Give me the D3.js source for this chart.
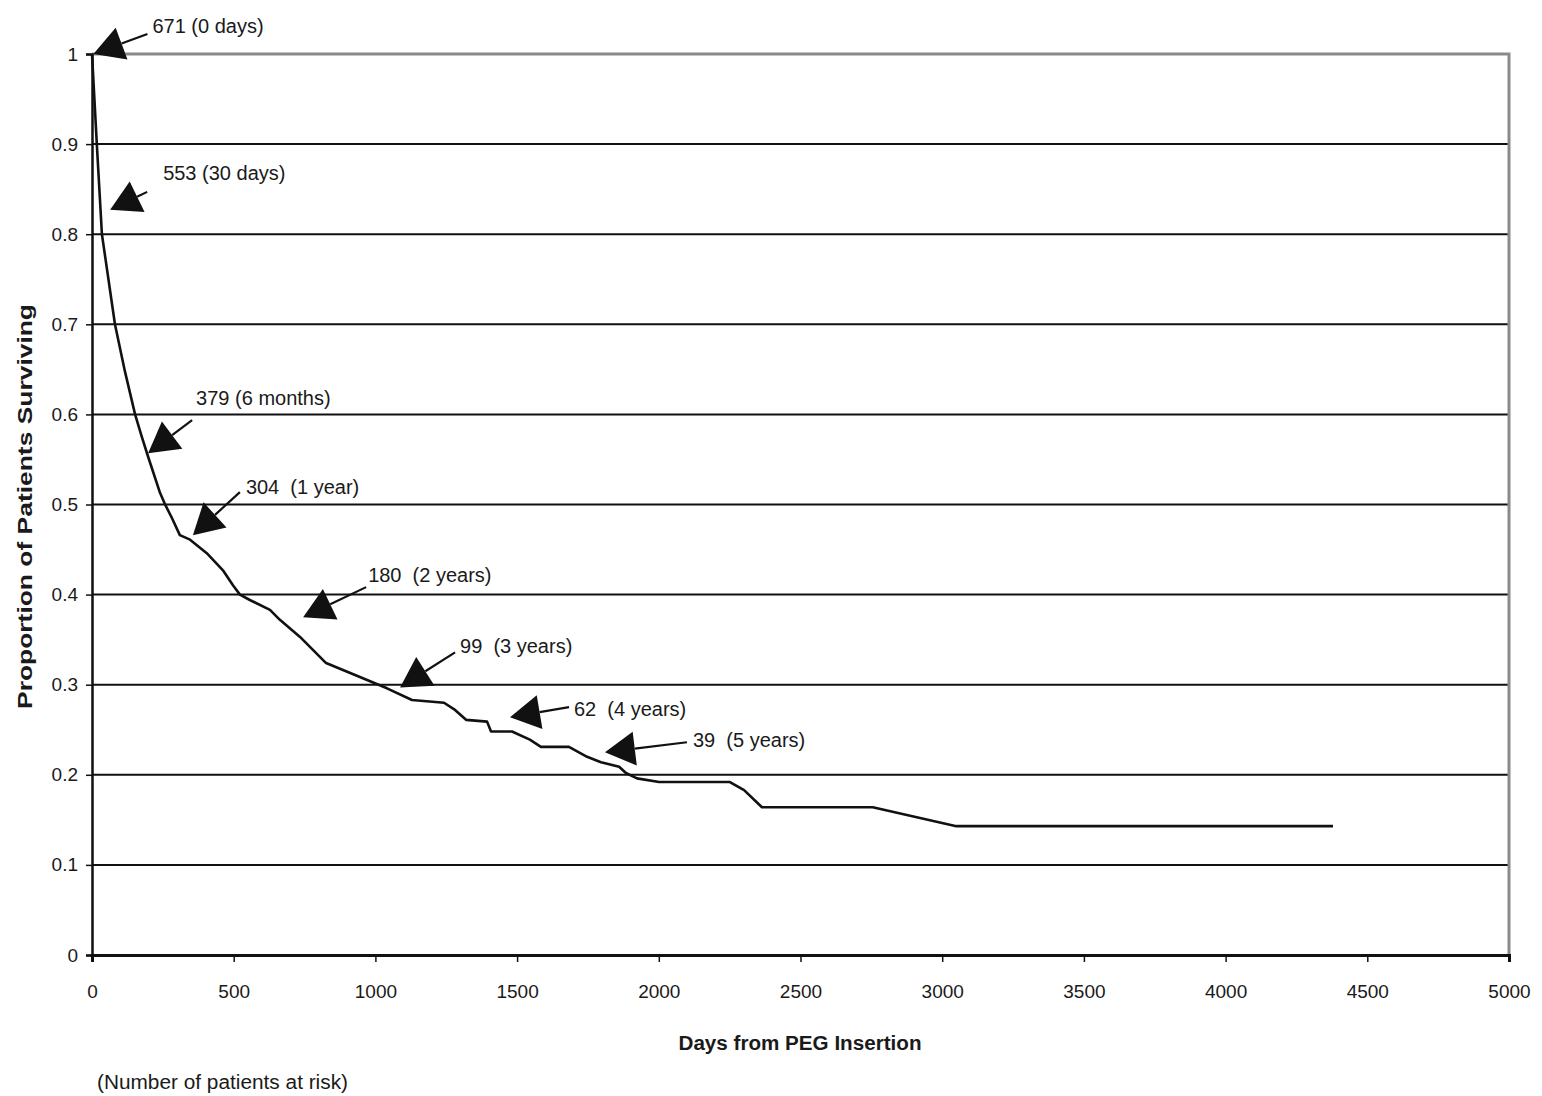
<!DOCTYPE html>
<html>
<head>
<meta charset="utf-8">
<script src="https://cdn.jsdelivr.net/npm/d3@7"></script>
<style>
  body { margin: 0; background: #fff; }
  text { font-family: "Liberation Sans", Arial, sans-serif; fill: #1a1a1a; }
</style>
</head>
<body>
<div id="chart"></div>
<script>
// Kaplan-Meier style survival curve
const days = [0, 17, 35, 81, 116, 152, 175, 198, 240, 258, 282, 310, 346, 405, 462, 498, 522, 557, 628, 663, 734, 826, 1041, 1129,
  1242, 1281, 1320, 1394, 1408, 1482, 1545, 1584, 1683, 1747, 1796, 1860, 1884, 1923, 2001, 2251, 2301, 2364, 2755, 3050, 4379];
const surviving = [1.0, 0.9, 0.8, 0.7, 0.648, 0.6, 0.576, 0.553, 0.513, 0.5, 0.485, 0.466, 0.461, 0.446, 0.427, 0.41, 0.4, 0.394, 0.383, 0.372, 0.353, 0.324, 0.296, 0.283,
  0.280, 0.272, 0.261, 0.259, 0.248, 0.248, 0.239, 0.231, 0.231, 0.220, 0.214, 0.209, 0.202, 0.196, 0.192, 0.192, 0.183, 0.164, 0.164, 0.143, 0.143];

// patients at risk annotations
const riskLabels = ["671 (0 days)", "553 (30 days)", "379 (6 months)", "304  (1 year)", "180  (2 years)", "99  (3 years)", "62  (4 years)", "39  (5 years)"];
const riskDays = [5, 64, 198, 356, 745, 1087, 1475, 1810];
const riskProp = [1.0, 0.827, 0.557, 0.466, 0.375, 0.297, 0.264, 0.225];

const xTicks = [0, 500, 1000, 1500, 2000, 2500, 3000, 3500, 4000, 4500, 5000];
const yTicks = [0, 0.1, 0.2, 0.3, 0.4, 0.5, 0.6, 0.7, 0.8, 0.9, 1];

const width = 1542, height = 1096;
const margin = { top: 54, right: 33, bottom: 141, left: 92 };

// arrow tail offsets and label offsets (pixels, relative to the arrow tip)
const tailOff = [[54, -20], [37, -18], [44, -33], [47, -43], [63, -30], [55, -35], [59, -10], [82, -10]];
const labelOff = [[59, -21], [53, -30], [48, -48], [53, -41], [65, -35], [60, -34], [64, -1], [88, -5]];

const svg = d3.select("#chart").append("svg")
  .attr("width", width)
  .attr("height", height);

const x = d3.scaleLinear().domain([0, 5000]).range([margin.left, width - margin.right]);
const y = d3.scaleLinear().domain([0, 1]).range([height - margin.bottom, margin.top]);

// horizontal gridlines
svg.append("g")
  .selectAll("line")
  .data(yTicks.filter(t => t > 0 && t < 1))
  .join("line")
  .attr("x1", x(0)).attr("x2", x(5000))
  .attr("y1", d => y(d)).attr("y2", d => y(d))
  .attr("stroke", "#111")
  .attr("stroke-width", 2);

// top and right frame (grey)
svg.append("path")
  .attr("d", `M${x(0)},${y(1)}H${x(5000)}V${y(0)}`)
  .attr("fill", "none")
  .attr("stroke", "#8a8a8a")
  .attr("stroke-width", 3);

// y axis
const yAxis = svg.append("g")
  .attr("transform", `translate(${x(0)},0)`)
  .call(d3.axisLeft(y).tickValues(yTicks).tickFormat(d3.format("")).tickSize(6).tickPadding(8));
yAxis.select(".domain").attr("stroke", "#111").attr("stroke-width", 2.5);
yAxis.selectAll(".tick line").attr("stroke", "#111").attr("stroke-width", 1.5);
yAxis.selectAll(".tick text").attr("font-size", 19).attr("fill", "#1a1a1a")
  .attr("font-family", '"Liberation Sans", Arial, sans-serif');

// x axis
const xAxis = svg.append("g")
  .attr("transform", `translate(0,${y(0)})`)
  .call(d3.axisBottom(x).tickValues(xTicks).tickFormat(d3.format("")).tickSize(7).tickPadding(23));
xAxis.select(".domain").attr("stroke", "#111").attr("stroke-width", 3);
xAxis.selectAll(".tick line").attr("stroke", "#111").attr("stroke-width", 1.5);
xAxis.selectAll(".tick text").attr("font-size", 19).attr("fill", "#1a1a1a")
  .attr("font-family", '"Liberation Sans", Arial, sans-serif');

// survival curve
const line = d3.line()
  .x((d, i) => x(days[i]))
  .y(d => y(d));

svg.append("path")
  .datum(surviving)
  .attr("d", line)
  .attr("fill", "none")
  .attr("stroke", "#111")
  .attr("stroke-width", 2.6)
  .attr("stroke-linejoin", "round");

// arrows
const headLen = 30, headHalf = 17;
const ann = svg.append("g");
riskLabels.forEach((label, i) => {
  const tx = x(riskDays[i]), ty = y(riskProp[i]);
  const ex = tx + tailOff[i][0], ey = ty + tailOff[i][1];
  const len = Math.hypot(ex - tx, ey - ty);
  const ux = (ex - tx) / len, uy = (ey - ty) / len;
  const bx = tx + ux * headLen, by = ty + uy * headLen;
  ann.append("line")
    .attr("x1", bx).attr("y1", by).attr("x2", ex).attr("y2", ey)
    .attr("stroke", "#111").attr("stroke-width", 2.2);
  ann.append("path")
    .attr("d", `M${tx},${ty}L${bx - uy * headHalf},${by + ux * headHalf}L${bx + uy * headHalf},${by - ux * headHalf}Z`)
    .attr("fill", "#111");
  ann.append("text")
    .attr("x", tx + labelOff[i][0])
    .attr("y", ty + labelOff[i][1])
    .attr("font-size", 20)
    .style("white-space", "pre")
    .text(label);
});

// axis titles
svg.append("text")
  .attr("transform", `translate(32,${(y(0) + y(1)) / 2 + 2}) rotate(-90)`)
  .attr("text-anchor", "middle")
  .attr("font-size", 20)
  .attr("font-weight", "bold")
  .attr("textLength", 405)
  .attr("lengthAdjust", "spacingAndGlyphs")
  .text("Proportion of Patients Surviving");

svg.append("text")
  .attr("x", 800)
  .attr("y", 1050)
  .attr("text-anchor", "middle")
  .attr("font-size", 20)
  .attr("font-weight", "bold")
  .attr("textLength", 243)
  .attr("lengthAdjust", "spacingAndGlyphs")
  .text("Days from PEG Insertion");

svg.append("text")
  .attr("x", 97)
  .attr("y", 1089)
  .attr("font-size", 20)
  .attr("textLength", 251)
  .attr("lengthAdjust", "spacingAndGlyphs")
  .text("(Number of patients at risk)");
</script>
</body>
</html>
